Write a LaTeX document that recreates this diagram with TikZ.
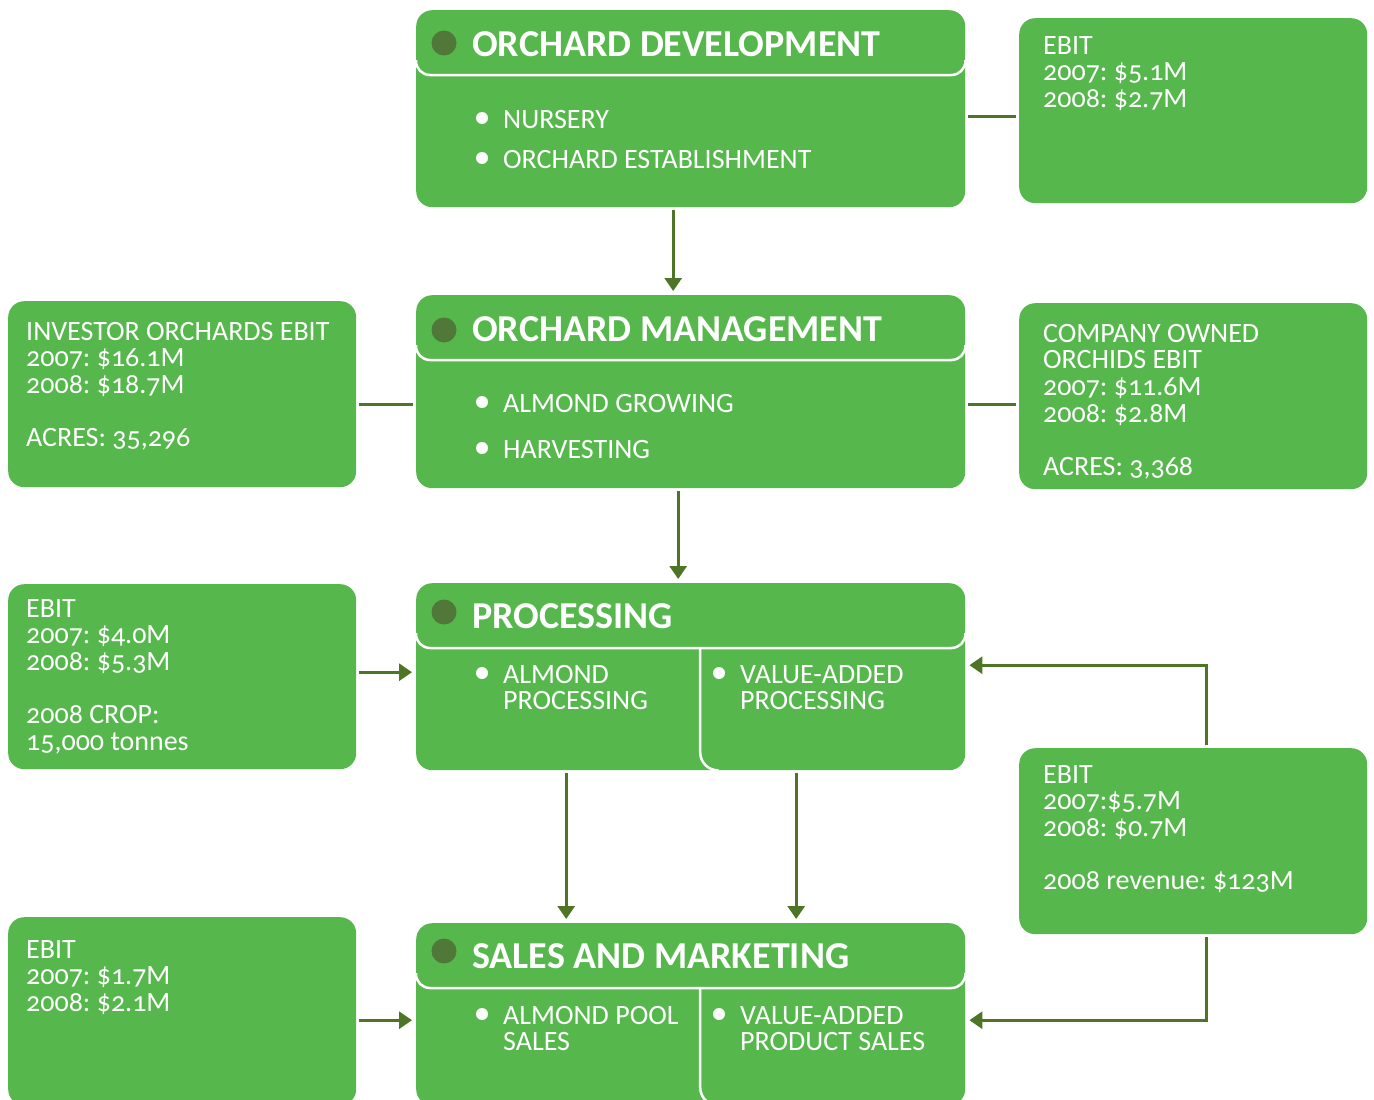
\documentclass[tikz,border=0pt]{standalone}
\usepackage{fontspec}
\setmainfont{Carlito}[Numbers=OldStyle]
\frenchspacing
\usepackage{tikz}
\usetikzlibrary{arrows.meta,positioning}
\definecolor{leaf}{HTML}{56B84C}
\definecolor{bark}{HTML}{4E7526}
\definecolor{knot}{HTML}{4F7839}
\tikzstyle{stagebox} = [fill=leaf, rounded corners=16pt, minimum width=549pt, inner sep=0pt, anchor=north west]
\tikzstyle{infobox} = [fill=leaf, rounded corners=16pt, minimum width=348pt, inner sep=0pt, anchor=north west]
\tikzstyle{infotext} = [anchor=north west, align=left, text=white, inner sep=0pt, font=\fontsize{28}{26.6}\selectfont]
\tikzstyle{headtext} = [anchor=base west, text=white, inner sep=0pt, font=\fontsize{38}{40}\selectfont\bfseries]
\tikzstyle{itemtext} = [anchor=north west, align=left, text=white, inner sep=0pt, font=\fontsize{28}{26.6}\selectfont]
\tikzstyle{knotdot} = [circle, fill=knot, minimum size=25pt, inner sep=0pt]
\tikzstyle{bullet} = [circle, fill=white, minimum size=12pt, inner sep=0pt]
\tikzstyle{divider} = [draw=white, line width=2.5pt, rounded corners=14pt]
\tikzstyle{arrow} = [draw, line width=3pt, color=bark, shorten <=3pt, shorten >=4pt, -{Triangle[length=13pt,width=17pt]}]
\tikzstyle{line} = [draw, line width=3pt, color=bark, shorten <=3pt, shorten >=3pt]
\newcommand{\stagebox}[2]{node (s#1) [stagebox, minimum height=#2] {}}
\newcommand{\infobox}[2]{node (e#1) [infobox, minimum height=#2] {}}
\newcommand{\infotext}[2]{node (t#1) [infotext] {#2}}
\newcommand{\headtext}[2]{node (h#1) [headtext] {#2}}
\newcommand{\itemtext}[2]{node (b#1) [itemtext] {#2}}
\newcommand{\headline}[1]{\path [divider] ([yshift=-50pt]s#1.north west) |- ([yshift=-65pt]s#1.north east) -- ([yshift=-50pt]s#1.north east);}

\begin{document}
\begin{tikzpicture}[x=1pt,y=-1pt]
\useasboundingbox (0,0) rectangle (1374,1100);
\clip (0,0) rectangle (1374,1100);

% stages
\path (416,10) \stagebox{1}{197pt};
\path (s1.north west)+(0,285) \stagebox{2}{193pt};
\path (s2.north west)+(0,288) \stagebox{3}{187pt};
\path (s3.north west)+(0,340) \stagebox{4}{182pt};
\headline{1}
\headline{2}
\headline{3}
\headline{4}
\path [divider, rounded corners=18pt] ([xshift=9.5pt,yshift=-65pt]s3.north) |- ([xshift=28pt]s3.south);
\path [divider, rounded corners=18pt] ([xshift=9.5pt,yshift=-65pt]s4.north) |- ([xshift=28pt]s4.south);

\path (s1.north west)+(28,33) node (k1) [knotdot] {};
\path (s2.north west)+(28,35) node (k2) [knotdot] {};
\path (s3.north west)+(28,29) node (k3) [knotdot] {};
\path (s4.north west)+(28,28) node (k4) [knotdot] {};
\path (s1.north west)+(56,46) \headtext{1}{ORCHARD DEVELOPMENT};
\path (s2.north west)+(56,46) \headtext{2}{ORCHARD MANAGEMENT};
\path (s3.north west)+(56,45) \headtext{3}{PROCESSING};
\path (s4.north west)+(56,45) \headtext{4}{SALES AND MARKETING};

% items
\path (s1.north west)+(87,100) \itemtext{1}{NURSERY};
\path (s1.north west)+(87,140) \itemtext{2}{ORCHARD ESTABLISHMENT};
\path (s2.north west)+(87,99) \itemtext{3}{ALMOND GROWING};
\path (s2.north west)+(87,145) \itemtext{4}{HARVESTING};
\path (s3.north west)+(87,82) \itemtext{5}{ALMOND\\PROCESSING};
\path (s3.north west)+(324,82) \itemtext{6}{VALUE-ADDED\\PROCESSING};
\path (s4.north west)+(87,83) \itemtext{7}{ALMOND POOL\\SALES};
\path (s4.north west)+(324,83) \itemtext{8}{VALUE-ADDED\\PRODUCT SALES};
\path (b1.north west)+(-21,8) node (d1) [bullet] {};
\path (b2.north west)+(-21,8) node (d2) [bullet] {};
\path (b3.north west)+(-21,8) node (d3) [bullet] {};
\path (b4.north west)+(-21,8) node (d4) [bullet] {};
\path (b5.north west)+(-21,8) node (d5) [bullet] {};
\path (b6.north west)+(-21,8) node (d6) [bullet] {};
\path (b7.north west)+(-21,8) node (d7) [bullet] {};
\path (b8.north west)+(-21,8) node (d8) [bullet] {};

% figures
\path (1019,18) \infobox{1}{185pt};
\path (8,301) \infobox{2}{186pt};
\path (1019,303) \infobox{3}{186pt};
\path (8,584) \infobox{4}{185pt};
\path (1019,748) \infobox{5}{186pt};
\path (8,917) \infobox{6}{188pt};
\path (e1.north west)+(24,18) \infotext{1}{EBIT\\2007: \$5.1M\\2008: \$2.7M};
\path (e2.north west)+(18,21) \infotext{2}{INVESTOR ORCHARDS EBIT\\2007: \$16.1M\\2008: \$18.7M\\[26.6pt]ACRES: 35,296};
\path (e3.north west)+(24,21) \infotext{3}{COMPANY OWNED\\ORCHIDS EBIT\\2007: \$11.6M\\2008: \$2.8M\\[26.6pt]ACRES: 3,368};
\path (e4.north west)+(18,15) \infotext{4}{EBIT\\2007: \$4.0M\\2008: \$5.3M\\[26.6pt]2008 CROP:\\15,000 tonnes};
\path (e5.north west)+(24,17) \infotext{5}{EBIT\\2007:\$5.7M\\2008: \$0.7M\\[26.6pt]2008 revenue: \$123M};
\path (e6.north west)+(18,23) \infotext{6}{EBIT\\2007: \$1.7M\\2008: \$2.1M};

% connectors
\path [line] ([yshift=-8pt]s1.east) -- ([yshift=-8pt]s1.east -| e1.west);
\path [line] ([yshift=-13pt]s2.west) -- ([yshift=-13pt]s2.west -| e2.east);
\path [line] ([yshift=-13pt]s2.east) -- ([yshift=-13pt]s2.east -| e3.west);
\path [arrow] ([xshift=-17.5pt]s1.south) -- ([xshift=-17.5pt]s1.south |- s2.north);
\path [arrow] ([xshift=-12.5pt]s2.south) -- ([xshift=-12.5pt]s2.south |- s3.north);
\path [arrow] ([xshift=-124.5pt]s3.south) -- ([xshift=-124.5pt]s3.south |- s4.north);
\path [arrow] ([xshift=105.5pt]s3.south) -- ([xshift=105.5pt]s3.south |- s4.north);
\path [arrow] ([yshift=4.5pt]e4.east) -- ([yshift=4.5pt]e4.east -| s3.west);
\path [arrow] ([yshift=-9pt]e6.east) -- ([yshift=-9pt]e6.east -| s4.west);
\path [arrow] ([xshift=13pt]e5.north) |- ([yshift=11.5pt]s3.east);
\path [arrow] ([xshift=13pt]e5.south) |- ([yshift=-6pt]s4.east);
\end{tikzpicture}
\end{document}
